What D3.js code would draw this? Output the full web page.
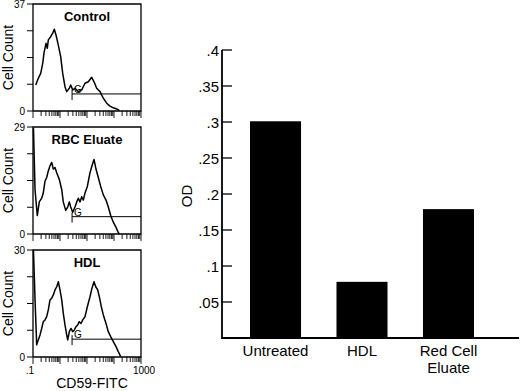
<!DOCTYPE html>
<html>
<head>
<meta charset="utf-8">
<script src="https://cdn.jsdelivr.net/npm/d3@7"></script>
<style>
  body { margin: 0; background: #fff; }
  text { font-family: Arial, "Liberation Sans", Helvetica, sans-serif; fill: #000; }
</style>
</head>
<body>
<div id="wrapper"></div>
<script>
// flow cytometry histograms: [CD59-FITC fluorescence, cell count]
const controlData = [
  [0.126, 9.0], [0.157, 11.3], [0.193, 13.0], [0.229, 16.5], [0.255, 20.0], [0.303, 23.4],
  [0.339, 21.7], [0.369, 24.6], [0.453, 25.7], [0.537, 26.9], [0.615, 28.3], [0.711, 26.3],
  [0.865, 22.8], [1.06, 18.8], [1.26, 13.0], [1.53, 8.4], [1.77, 6.7], [2.21, 7.85],
  [2.49, 9.0], [2.95, 7.3], [3.59, 7.85], [4.77, 6.7], [6.37, 7.3], [8.44, 9.6],
  [11.2, 10.1], [14.9, 11.65], [18.2, 10.1], [22.8, 7.85], [30.3, 6.7], [40.2, 4.4],
  [53.7, 2.7], [71.1, 1.7], [94.3, 1.1], [132, 0.6], [157, 0.2]
]
const rbcData = [
  [0.104, 28.7], [0.119, 12.0], [0.144, 5.0], [0.171, 8.7], [0.210, 9.7], [0.240, 11.1],
  [0.278, 14.3], [0.321, 15.3], [0.369, 17.1], [0.426, 18.5], [0.493, 19.4], [0.565, 17.6],
  [0.653, 18.0], [0.755, 16.6], [0.942, 14.8], [1.16, 12.0], [1.32, 8.7], [1.63, 6.4],
  [1.93, 7.3], [2.21, 8.7], [2.49, 7.3], [2.95, 5.9], [3.59, 7.3], [4.16, 8.7],
  [4.77, 9.7], [5.50, 8.7], [6.37, 10.1], [7.30, 9.2], [8.44, 11.1], [10.3, 12.9],
  [12.9, 16.6], [15.3, 18.5], [18.2, 20.2], [21.5, 17.6], [26.2, 15.3], [32.1, 12.9],
  [40.2, 10.6], [50.6, 9.2], [61.5, 7.3], [75.5, 5.0], [94.3, 3.2], [119, 1.8],
  [144, 0.4], [157, 0]
]
const hdlData = [
  [0.104, 30], [0.119, 16.0], [0.137, 3.4], [0.157, 4.8], [0.182, 6.2], [0.210, 8.0],
  [0.240, 9.9], [0.278, 10.4], [0.321, 11.3], [0.369, 13.2], [0.426, 16.0], [0.493, 16.5],
  [0.565, 17.4], [0.653, 18.8], [0.755, 19.7], [0.865, 21.1], [1.0, 18.8], [1.16, 16.0],
  [1.32, 12.3], [1.53, 9.0], [1.77, 6.2], [1.93, 4.8], [2.21, 7.1], [2.55, 8.0],
  [2.95, 7.1], [3.39, 7.6], [3.92, 8.5], [4.53, 9.0], [5.19, 9.9], [6.00, 9.4],
  [6.93, 10.4], [8.44, 11.3], [10.3, 14.1], [12.9, 16.9], [15.3, 19.3], [18.2, 21.1],
  [21.0, 19.7], [24.9, 18.8], [28.6, 16.9], [33.9, 14.1], [40.2, 11.8], [50.6, 9.4],
  [61.5, 7.1], [75.5, 5.7], [94.3, 4.3], [119, 2.9], [144, 1.5], [177, 0.1]
]
const panelTitles = ["Control", "RBC Eluate", "HDL"]
const panelMaxCounts = [37, 29, 30]
const gateLevels = [5.9, 4.7, 5.0]
const gateStart = 2.8
const fluorDomain = [0.1, 1000]
const fluorLabels = [".1", "1000"]

// bar chart: OD per treatment
const barCategories = ["Untreated", "HDL", "Red Cell Eluate"]
const barValues = [0.301, 0.078, 0.179]
const odTicks = [0.05, 0.1, 0.15, 0.2, 0.25, 0.3, 0.35, 0.4]
const odTickLabels = [".05", ".1", ".15", ".2", ".25", ".3", ".35", ".4"]

function drawChart() {
  const width = 520
  const height = 391

  const svg = d3.select("#wrapper")
    .append("svg")
      .attr("width", width)
      .attr("height", height)

  // ---------- histogram panels (left) ----------
  const hist = { left: 33, right: 141, top: 4, height: 107, step: 123 }
  const panelData = [controlData, rbcData, hdlData]

  const xFluor = d3.scaleLog()
    .domain(fluorDomain)
    .range([hist.left, hist.right])

  panelData.forEach((data, i) => {
    const top = hist.top + i * hist.step
    const bottom = top + hist.height
    const maxCount = panelMaxCounts[i]

    const yCount = d3.scaleLinear()
      .domain([0, maxCount])
      .range([bottom, top])

    const g = svg.append("g")

    // frame: left axis, baseline, top and right border
    g.append("path")
      .attr("d", `M${hist.left},${bottom}V${top}H${hist.right}V${bottom}H${hist.left}`)
      .attr("fill", "none")
      .attr("stroke", "#000")
      .attr("stroke-width", 1.3)

    // y ticks at quarters, labels only at 0 and max
    const yTicks = [0, 0.25, 0.5, 0.75, 1].map(f => f * maxCount)
    g.selectAll(".ytick")
      .data(yTicks)
      .join("line")
        .attr("x1", hist.left - 6)
        .attr("x2", hist.left)
        .attr("y1", d => yCount(d))
        .attr("y2", d => yCount(d))
        .attr("stroke", "#000")
        .attr("stroke-width", 1)
    g.selectAll(".ylab")
      .data([0, maxCount])
      .join("text")
        .attr("x", hist.left - 8)
        .attr("y", d => yCount(d) + 3.5)
        .attr("text-anchor", "end")
        .style("font-size", "10px")
        .text(d => d)

    // log x ticks below the baseline
    g.selectAll(".xtick")
      .data(xFluor.ticks())
      .join("line")
        .attr("x1", d => xFluor(d))
        .attr("x2", d => xFluor(d))
        .attr("y1", bottom)
        .attr("y2", d => bottom + (Math.abs(Math.log10(d) % 1) < 1e-6 ? 7 : 5))
        .attr("stroke", "#000")
        .attr("stroke-width", 0.9)

    // histogram curve
    const line = d3.line()
      .x(d => xFluor(d[0]))
      .y(d => yCount(d[1]))
    g.append("path")
      .datum(data)
      .attr("d", line)
      .attr("fill", "none")
      .attr("stroke", "#000")
      .attr("stroke-width", 1.5)
      .attr("stroke-linejoin", "round")

    // gate marker
    const gy = yCount(gateLevels[i])
    g.append("line")
      .attr("x1", xFluor(gateStart)).attr("x2", xFluor(fluorDomain[1]))
      .attr("y1", gy).attr("y2", gy)
      .attr("stroke", "#000").attr("stroke-width", 1)
    g.append("line")
      .attr("x1", xFluor(gateStart)).attr("x2", xFluor(gateStart))
      .attr("y1", gy - 4).attr("y2", gy + 6)
      .attr("stroke", "#000").attr("stroke-width", 1)
    g.append("text")
      .attr("x", xFluor(gateStart) + 2)
      .attr("y", gy - 1)
      .style("font-size", "10px")
      .text("G")

    // panel title
    g.append("text")
      .attr("x", (hist.left + hist.right) / 2)
      .attr("y", top + 17)
      .attr("text-anchor", "middle")
      .style("font-size", "13px")
      .style("font-weight", "bold")
      .text(panelTitles[i])

    // y label
    g.append("text")
      .attr("transform", `translate(13, ${(top + bottom) / 2}) rotate(-90)`)
      .attr("text-anchor", "middle")
      .style("font-size", "14px")
      .text("Cell Count")
  })

  // x labels under the last panel
  const lastBottom = hist.top + 2 * hist.step + hist.height
  svg.selectAll(".xlab")
    .data(fluorDomain)
    .join("text")
      .attr("x", (d, i) => xFluor(d) + (i === 0 ? -3 : 3))
      .attr("y", lastBottom + 17)
      .attr("text-anchor", "middle")
      .style("font-size", "10px")
      .text((d, i) => fluorLabels[i])
  svg.append("text")
    .attr("x", 92)
    .attr("y", lastBottom + 31)
    .attr("text-anchor", "middle")
    .style("font-size", "14px")
    .text("CD59-FITC")

  // ---------- bar chart (right) ----------
  const bar = { axisX: 222, endX: 519, top: 50, bottom: 338 }

  const yOD = d3.scaleLinear()
    .domain([0, 0.4])
    .range([bar.bottom, bar.top])

  const xCat = d3.scaleBand()
    .domain(barCategories)
    .range([250, 474])
    .paddingInner(0.41)
    .paddingOuter(0)

  // bars
  svg.selectAll(".bar")
    .data(barValues)
    .join("rect")
      .attr("x", (d, i) => xCat(barCategories[i]))
      .attr("width", xCat.bandwidth())
      .attr("y", d => yOD(d))
      .attr("height", d => yOD(0) - yOD(d))
      .attr("fill", "#000")

  // axis lines
  svg.append("path")
    .attr("d", `M${bar.axisX},${bar.top}V${bar.bottom}H${bar.endX}`)
    .attr("fill", "none")
    .attr("stroke", "#000")
    .attr("stroke-width", 1.8)

  // y ticks point inward, labels outside
  svg.selectAll(".odtick")
    .data(odTicks)
    .join("line")
      .attr("x1", bar.axisX)
      .attr("x2", bar.axisX + 10)
      .attr("y1", d => yOD(d))
      .attr("y2", d => yOD(d))
      .attr("stroke", "#000")
      .attr("stroke-width", 1.3)
  svg.selectAll(".odlab")
    .data(odTicks)
    .join("text")
      .attr("x", bar.axisX - 3)
      .attr("y", d => yOD(d) + 5.5)
      .attr("text-anchor", "end")
      .style("font-size", "15px")
      .text((d, i) => odTickLabels[i])

  svg.append("text")
    .attr("transform", `translate(192, ${(bar.top + bar.bottom) / 2 + 2}) rotate(-90)`)
    .attr("text-anchor", "middle")
    .style("font-size", "15px")
    .text("OD")

  // category labels, long names wrap onto two lines
  svg.selectAll(".catlab")
    .data(barCategories)
    .join("text")
      .attr("x", d => xCat(d) + xCat.bandwidth() / 2)
      .attr("y", bar.bottom + 18)
      .attr("text-anchor", "middle")
      .style("font-size", "15px")
      .each(function(d) {
        const words = d === "Red Cell Eluate" ? ["Red Cell", "Eluate"] : [d]
        d3.select(this).selectAll("tspan")
          .data(words)
          .join("tspan")
            .attr("x", d3.select(this).attr("x"))
            .attr("dy", (w, j) => j === 0 ? 0 : 17)
            .text(w => w)
      })
}

drawChart()
</script>
</body>
</html>
